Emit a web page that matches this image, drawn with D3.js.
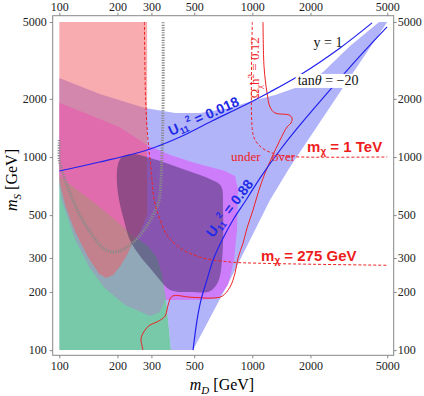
<!DOCTYPE html>
<html>
<head>
<meta charset="utf-8">
<script src="https://cdn.jsdelivr.net/npm/d3@7"></script>
<style>body{margin:0;background:#fff}</style>
</head>
<body>
<div id="chart"></div>
<script>
// axis ticks (GeV)
var xTicks = [100, 200, 300, 500, 1000, 2000, 5000];
var yTicks = [100, 200, 300, 500, 1000, 2000, 5000];

// shaded regions, points are [mD, mS] in GeV
var greenRegion = [[100,797],[128,659],[162,551],[206,450],[238,394],[288,346],[321,300],[341,245],[357,186],[366,143],[379,100],[100,100]];
var greyRegion = [[100,797],[128,659],[162,551],[206,450],[238,394],[288,346],[321,300],[341,245],[357,186],[332,157],[295,150],[219,171],[172,210],[144,266],[121,372],[103,599],[100,716]];
var blueRegion = [[100,2567],[162,2121],[278,1794],[398,1690],[536,1690],[766,1794],[990,1951],[1311,2096],[1665,2278],[1990,2450],[2325,2757],[3208,3759],[4535,5000],[5000,5000],[3130,2500],[2243,1519],[1567,888],[1235,599],[1096,472],[766,231],[493,100],[379,100],[366,143],[357,186],[341,245],[321,300],[288,346],[238,394],[206,450],[162,551],[128,659],[100,797]];
var violetRegion = [[100,1905],[136,1690],[204,1430],[285,1154],[375,1024],[505,931],[722,846],[814,797],[843,675],[833,419],[804,293],[748,217],[664,186],[536,182],[357,182],[341,245],[321,300],[288,346],[238,394],[206,450],[162,551],[128,659],[100,797]];
var pinkRegion = [[100,5000],[285,5000],[285,501],[262,409],[241,363],[224,311],[209,276],[190,245],[175,236],[161,248],[141,303],[121,409],[108,551],[102,691],[100,760]];
var ovalRegion = [[201,909],[211,1000],[238,1036],[295,988],[422,877],[618,760],[688,707],[705,531],[697,293],[664,225],[604,202],[476,200],[375,205],[332,231],[295,266],[262,307],[232,372],[216,472],[204,599],[199,733]];

// contour lines
var u018Line = [[100,846],[162,942],[285,1087],[422,1269],[618,1537],[917,1860],[1235,2172],[1767,2660],[2848,3671],[4171,4947]];
var u088Line = [[493,100],[517,143],[542,182],[582,231],[626,293],[697,372],[794,472],[928,599],[1096,778],[1392,1087],[1767,1465],[2527,2225],[3614,3337],[4989,4717]];
var greyDotted = [[100,1225],[100,965],[103,856],[112,675],[126,513],[142,419],[166,342],[187,322],[211,330],[238,358],[268,404],[302,489],[329,599],[336,760],[341,1087],[345,1974],[345,5000]];
var mx275Line = [[276,5000],[280,1974],[288,1225],[299,856],[310,599],[329,489],[361,394],[422,338],[536,303],[766,286],[1058,282],[1767,279],[5000,275]];
var mx1TeVLine = [[1000,5000],[1000,1380],[1033,1225],[1123,1113],[1265,1049],[1477,1012],[1767,1000],[5000,1000]];
var relicLine = [[1136,5000],[1150,2927],[1192,2146],[1235,1816],[1311,1690],[1549,1651],[1606,1593],[1587,1501],[1513,1430],[1392,1225],[1265,1000],[1164,826],[1083,675],[1008,531],[939,429],[895,358],[843,300],[814,251],[766,212],[697,190],[626,186],[476,188],[384,190],[366,171],[353,150],[321,140],[295,135],[278,127],[265,115],[268,106],[271,100]];

var svg = d3.select("#chart")
    .append("svg")
    .attr("width", 424)
    .attr("height", 396);

var x = d3.scaleLog().domain([92.4, 5400]).range([52.7, 393.7]);
var y = d3.scaleLog().domain([94, 5390]).range([355.3, 15.7]);

svg.append("clipPath")
    .attr("id", "clip")
    .append("rect")
    .attr("x", 52.7).attr("y", 15.7)
    .attr("width", 341).attr("height", 339.6);

var plot = svg.append("g").attr("clip-path", "url(#clip)");

var area = d3.line()
    .x(function(d) { return x(d[0]); })
    .y(function(d) { return y(d[1]); })
    .curve(d3.curveLinearClosed);

var curve = d3.line()
    .x(function(d) { return x(d[0]); })
    .y(function(d) { return y(d[1]); })
    .curve(d3.curveCatmullRom.alpha(0.5));

var regions = [
    [greenRegion, "rgb(30,163,113)", 0.6],
    [greyRegion, "rgb(168,136,198)", 0.5],
    [blueRegion, "rgb(101,105,245)", 0.5],
    [violetRegion, "rgb(232,70,250)", 0.5],
    [pinkRegion, "rgb(244,90,95)", 0.5]
];
regions.forEach(function(r) {
    plot.append("path")
        .attr("d", area(r[0]))
        .attr("fill", r[1])
        .attr("fill-opacity", r[2]);
});

plot.append("path")
    .attr("d", d3.line()
        .x(function(d) { return x(d[0]); })
        .y(function(d) { return y(d[1]); })
        .curve(d3.curveCatmullRomClosed.alpha(0.5))(ovalRegion))
    .attr("fill", "rgb(65,45,100)")
    .attr("fill-opacity", 0.5);

plot.append("path")
    .attr("d", curve(greyDotted))
    .attr("fill", "none")
    .attr("stroke", "#8a8a8a")
    .attr("stroke-width", 3)
    .attr("stroke-dasharray", "1.2,1.3");

[mx275Line, mx1TeVLine].forEach(function(l) {
    plot.append("path")
        .attr("d", curve(l))
        .attr("fill", "none")
        .attr("stroke", "#ee2222")
        .attr("stroke-width", 1)
        .attr("stroke-dasharray", "3,2");
});

plot.append("path")
    .attr("d", curve(relicLine))
    .attr("fill", "none")
    .attr("stroke", "#ee2222")
    .attr("stroke-width", 1);

[u018Line, u088Line].forEach(function(l) {
    plot.append("path")
        .attr("d", curve(l))
        .attr("fill", "none")
        .attr("stroke", "#2222ee")
        .attr("stroke-width", 1.2);
});

// frame + ticks
svg.append("rect")
    .attr("x", 52.7).attr("y", 15.7)
    .attr("width", 341).attr("height", 339.6)
    .attr("fill", "none")
    .attr("stroke", "#888");

function styleAxis(g) {
    g.select(".domain").remove();
    g.selectAll("line").attr("stroke", "#888");
    g.selectAll("text")
        .attr("font-family", "Liberation Serif")
        .attr("font-size", 12)
        .attr("fill", "#222");
}

svg.append("g").attr("transform", "translate(0,355.3)")
    .call(d3.axisBottom(x).tickValues(xTicks).tickFormat(d3.format("d")).tickSize(3).tickPadding(3))
    .call(styleAxis);
svg.append("g").attr("transform", "translate(0,15.7)")
    .call(d3.axisTop(x).tickValues(xTicks).tickFormat(d3.format("d")).tickSize(3).tickPadding(2))
    .call(styleAxis);
svg.append("g").attr("transform", "translate(52.7,0)")
    .call(d3.axisLeft(y).tickValues(yTicks).tickFormat(d3.format("d")).tickSize(3).tickPadding(3))
    .call(styleAxis);
svg.append("g").attr("transform", "translate(393.7,0)")
    .call(d3.axisRight(y).tickValues(yTicks).tickFormat(d3.format("d")).tickSize(3).tickPadding(1))
    .call(styleAxis);

// axis titles
var xt = svg.append("text")
    .attr("x", 222).attr("y", 390)
    .attr("text-anchor", "middle")
    .attr("font-family", "Liberation Serif")
    .attr("font-size", 16);
xt.append("tspan").attr("font-style", "italic").text("m");
xt.append("tspan").attr("font-style", "italic").attr("font-size", 11).attr("dy", 4).text("D");
xt.append("tspan").attr("dy", -4).text(" [GeV]");

var yt = svg.append("text")
    .attr("transform", "translate(17,180) rotate(-90)")
    .attr("text-anchor", "middle")
    .attr("font-family", "Liberation Serif")
    .attr("font-size", 16);
yt.append("tspan").attr("font-style", "italic").text("m");
yt.append("tspan").attr("font-style", "italic").attr("font-size", 11).attr("dy", 4).text("S");
yt.append("tspan").attr("dy", -4).text(" [GeV]");

// labels
function uLabel(pos, angle, val) {
    var t = svg.append("text")
        .attr("transform", "translate(" + x(pos[0]) + "," + y(pos[1]) + ") rotate(" + angle + ")")
        .attr("font-family", "Liberation Sans")
        .attr("font-weight", "bold")
        .attr("font-size", 14)
        .attr("fill", "#1f2be8");
    t.append("tspan").text("U");
    t.append("tspan").attr("font-size", 9).attr("dy", 3).text("11");
    t.append("tspan").attr("font-size", 9).attr("dy", -9).text("2");
    t.append("tspan").attr("dy", 6).text(" = " + val);
}
uLabel([379, 1285], -24, "0.018");
uLabel([626, 380], -53, "0.88");

function mxLabel(pos, val) {
    var t = svg.append("text")
        .attr("x", x(pos[0])).attr("y", y(pos[1]))
        .attr("font-family", "Liberation Sans")
        .attr("font-weight", "bold")
        .attr("font-size", 15)
        .attr("fill", "#ee1c1c");
    t.append("tspan").text("m");
    t.append("tspan").attr("font-size", 10).attr("dy", 3).text("\u03c7");
    t.append("tspan").attr("dy", -3).text(" = " + val);
}
mxLabel([1921, 1061], "1 TeV");
mxLabel([1110, 289], "275 GeV");

svg.append("text")
    .attr("x", x(775)).attr("y", y(953))
    .attr("font-family", "Liberation Serif")
    .attr("font-size", 13)
    .attr("fill", "#ee2222")
    .text("under");
svg.append("text")
    .attr("x", x(1265)).attr("y", y(953))
    .attr("font-family", "Liberation Serif")
    .attr("font-size", 13)
    .attr("fill", "#ee2222")
    .text("over");

var om = svg.append("text")
    .attr("transform", "translate(" + x(1083) + "," + y(2891) + ") rotate(-90)")
    .attr("text-anchor", "middle")
    .attr("font-family", "Liberation Serif")
    .attr("font-size", 13)
    .attr("fill", "#ee2222");
om.append("tspan").text("\u03a9");
om.append("tspan").attr("font-size", 9).attr("dy", 3).text("\u03c7");
om.append("tspan").attr("dy", -3).text("h");
om.append("tspan").attr("font-size", 9).attr("dy", -5).text("2");
om.append("tspan").attr("dy", 5).text(" = 0.12");

svg.append("text")
    .attr("x", x(2467)).attr("y", y(3715))
    .attr("text-anchor", "middle")
    .attr("font-family", "Liberation Serif")
    .attr("font-size", 14)
    .attr("fill", "#111")
    .text("y = 1");

var tanG = svg.append("g");
var tanT = tanG.append("text")
    .attr("x", x(2467)).attr("y", y(2361))
    .attr("text-anchor", "middle")
    .attr("font-family", "Liberation Serif")
    .attr("font-size", 14)
    .attr("fill", "#111");
tanT.append("tspan").text("tan");
tanT.append("tspan").attr("font-style", "italic").text("\u03b8");
tanT.append("tspan").text(" = \u221220");
var bb = tanT.node().getBBox();
tanG.insert("rect", "text")
    .attr("x", bb.x - 2).attr("y", bb.y + 1)
    .attr("width", bb.width + 4).attr("height", bb.height - 1)
    .attr("fill", "#fff");
</script>
</body>
</html>
